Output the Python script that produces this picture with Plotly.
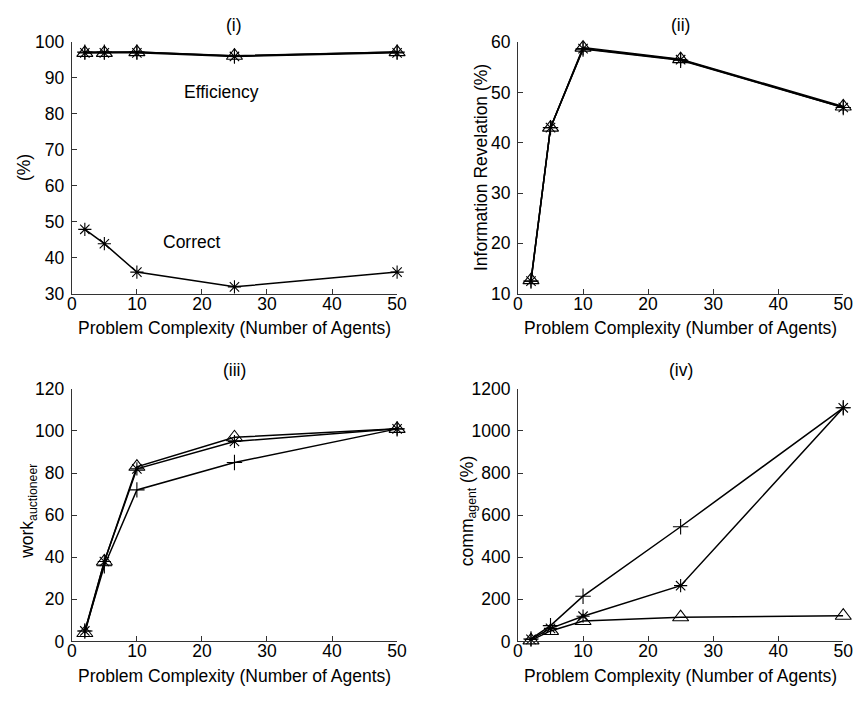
import plotly.graph_objects as go

agents = [2, 5, 10, 25, 50]

# (i)
eff_plus = [97.2, 97.2, 97.2, 96.1, 97.2]
eff_star = [97.0, 97.0, 97.0, 96.0, 97.0]
eff_tri = [97.0, 97.0, 97.2, 96.2, 97.2]
correct_star = [47.9, 43.9, 36.0, 31.9, 36.0]

# (ii)
info_plus = [12.5, 43.0, 58.6, 56.4, 47.0]
info_star = [12.5, 43.0, 58.7, 56.5, 47.0]
info_tri = [12.7, 43.0, 58.9, 56.6, 47.2]

# (iii)
work_plus = [5, 36, 72, 85, 101]
work_star = [5, 38, 82, 95, 101]
work_tri = [4, 38, 83, 97, 101]

# (iv)
comm_plus = [12, 75, 215, 545, 1110]
comm_star = [10, 62, 120, 265, 1110]
comm_tri = [5, 50, 97, 115, 122]

FONT = "Liberation Sans, Arial, sans-serif"
FS = 17.5
W, H = 868, 701

def px(v): return v / W
def py(v): return 1 - v / H

fig = go.Figure()

sym = {"plus": ("cross-thin-open", 11), "star": ("asterisk-open", 11), "tri": ("triangle-up-open", 14)}

def add(xa, ya, ys, kind, lw=1.5):
    s, sz = sym[kind]
    fig.add_trace(go.Scatter(
        x=agents, y=ys, xaxis=xa, yaxis=ya, mode="lines+markers", cliponaxis=False,
        line=dict(color="black", width=lw),
        marker=dict(symbol=s, size=sz, color="black", line=dict(color="black", width=1.1)),
        showlegend=False))

add("x", "y", eff_plus, "plus")
add("x", "y", eff_star, "star")
add("x", "y", eff_tri, "tri")
add("x", "y", correct_star, "star")
add("x2", "y2", info_plus, "plus")
add("x2", "y2", info_star, "star")
add("x2", "y2", info_tri, "tri")
add("x3", "y3", work_plus, "plus")
add("x3", "y3", work_star, "star")
add("x3", "y3", work_tri, "tri")
add("x4", "y4", comm_plus, "plus")
add("x4", "y4", comm_star, "star")
add("x4", "y4", comm_tri, "tri")

colL = [px(68), px(399)]
colR = [px(522), px(853)]
rowT = [py(292), py(33)]
rowB = [py(650), py(390)]

def xax(dom, anchor):
    return dict(domain=dom, anchor=anchor, range=[0, 50], dtick=10, tick0=0,
                showline=True, linecolor="#333", linewidth=1, ticks="inside", ticklen=5,
                tickcolor="#333", showgrid=False, zeroline=False, ticklabelstandoff=-6,
                tickfont=dict(family=FONT, size=FS, color="black"))

def yax(dom, anchor, rng, dt):
    return dict(domain=dom, anchor=anchor, range=rng, dtick=dt, tick0=0,
                showline=True, linecolor="#333", linewidth=1, ticks="inside", ticklen=5,
                tickcolor="#333", showgrid=False, zeroline=False, ticklabelstandoff=3,
                tickfont=dict(family=FONT, size=FS, color="black"))

fig.update_layout(
    width=W, height=H, margin=dict(l=0, r=0, t=0, b=0),
    paper_bgcolor="white", plot_bgcolor="white",
    font=dict(family=FONT, size=FS, color="black"),
    xaxis=xax(colL, "y"), yaxis=yax(rowT, "x", [30, 100], 10),
    xaxis2=xax(colR, "y2"), yaxis2=yax(rowT, "x2", [10, 60], 10),
    xaxis3=xax(colL, "y3"), yaxis3=yax(rowB, "x3", [0, 120], 20),
    xaxis4=xax(colR, "y4"), yaxis4=yax(rowB, "x4", [0, 1200], 200),
)

cL = (colL[0] + colL[1]) / 2
cR = (colR[0] + colR[1]) / 2
xtitle = "Problem Complexity (Number of Agents)"
annos = [
    dict(text="(i)", x=cL, y=py(15)),
    dict(text="(ii)", x=cR, y=py(15)),
    dict(text="(iii)", x=cL, y=py(371)),
    dict(text="(iv)", x=cR, y=py(371)),
    dict(text=xtitle, x=cL, y=py(327)),
    dict(text=xtitle, x=cR, y=py(327)),
    dict(text=xtitle, x=cL, y=py(686)),
    dict(text=xtitle, x=cR, y=py(686)),
    dict(text="(%)", x=px(20), y=py(162), textangle=-90),
    dict(text="Information Revelation (%)", x=px(485), y=py(162), textangle=-90),
    dict(text="work<sub>auctioneer</sub>", x=px(24), y=py(516), textangle=-90),
    dict(text="comm<sub>agent</sub> (%)", x=px(471), y=py(516), textangle=-90),
]
for a in annos:
    a.update(xref="paper", yref="paper")
annos += [
    dict(text="Efficiency", x=23, y=86, xref="x", yref="y"),
    dict(text="Correct", x=18.5, y=44.5, xref="x", yref="y"),
]
for a in annos:
    a.update(showarrow=False, font=dict(family=FONT, size=FS, color="black"),
             xanchor="center", yanchor="middle")
    fig.add_annotation(**a)

fig.write_html("out.html")
